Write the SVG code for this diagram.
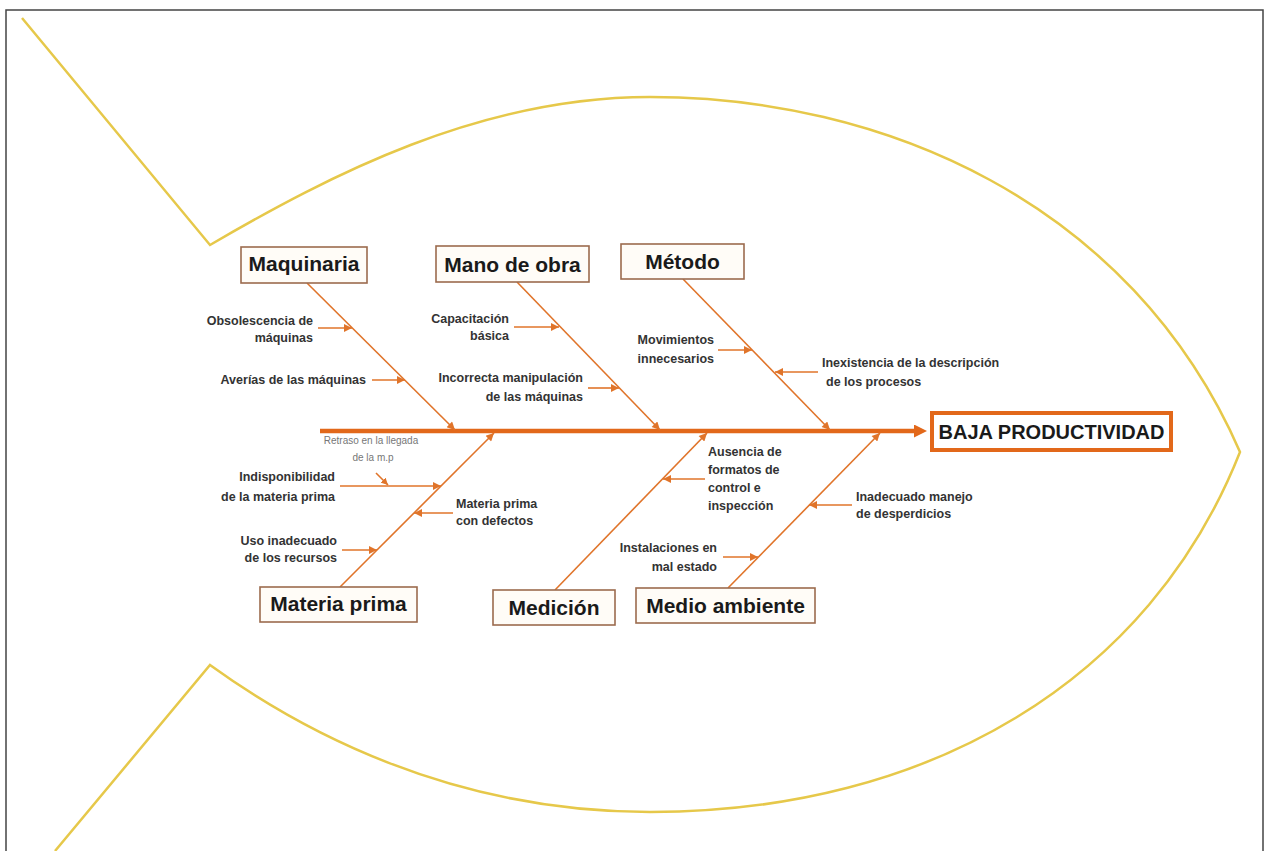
<svg xmlns="http://www.w3.org/2000/svg" width="1270" height="851" viewBox="0 0 1270 851">
<defs>
<style>
.fish{fill:none;stroke:#E6C84A;stroke-width:2.5;stroke-linejoin:miter}
.bone{stroke:#E0742A;stroke-width:1.6;fill:none}
.spine{stroke:#E2681A;stroke-width:4.5;fill:none}
.cat rect{fill:#FFFCF7;stroke:#9C6B4E;stroke-width:1.6}
.cat text{font-family:"Liberation Sans",Arial,sans-serif;font-weight:bold;font-size:21px;fill:#1a1a1a;text-anchor:middle}
.sub{font-family:"Liberation Sans",Arial,sans-serif;font-weight:bold;font-size:12.5px;fill:#333}
.small{font-family:"Liberation Sans",Arial,sans-serif;font-size:10px;fill:#777}
</style>
<marker id="ah" viewBox="0 0 10 10" refX="10" refY="5" markerWidth="9" markerHeight="8" markerUnits="userSpaceOnUse" orient="auto"><path d="M0,0 L10,5 L0,10 z" fill="#E0742A"/></marker>
<marker id="ahs" viewBox="0 0 10 10" refX="10" refY="5" markerWidth="7" markerHeight="7" markerUnits="userSpaceOnUse" orient="auto"><path d="M0,0 L10,5 L0,10 z" fill="#E0742A"/></marker>
<marker id="ahbig" viewBox="0 0 10 10" refX="0" refY="5" markerWidth="15" markerHeight="13" markerUnits="userSpaceOnUse" orient="auto"><path d="M0,0 L10,5 L0,10 z" fill="#E2681A"/></marker>
</defs>
<rect width="1270" height="851" fill="#fff"/>
<path d="M6,860 L6,10 L1263,10 L1263,860" fill="none" stroke="#444" stroke-width="1.5"/>
<g id="fish">
<path class="fish" d="M22,18 L210,245 C330,175 480,97 650,97 C880,97 1130,200 1240,452 C1150,680 930,812 650,812 C450,812 300,730 210,665 L55,851"/>
</g>
<g id="connectors">
<line class="spine" x1="320" y1="431" x2="914" y2="431" marker-end="url(#ahbig)"/>
<line class="bone" x1="307" y1="283" x2="455" y2="430" marker-end="url(#ah)"/>
<line class="bone" x1="517" y1="282" x2="660" y2="430" marker-end="url(#ah)"/>
<line class="bone" x1="683" y1="279" x2="830" y2="430" marker-end="url(#ah)"/>
<line class="bone" x1="340" y1="587" x2="494" y2="433" marker-end="url(#ah)"/>
<line class="bone" x1="555" y1="590" x2="707" y2="433" marker-end="url(#ah)"/>
<line class="bone" x1="728" y1="588" x2="880" y2="433" marker-end="url(#ah)"/>
<line class="bone" x1="318" y1="328" x2="352" y2="328" marker-end="url(#ah)"/>
<line class="bone" x1="372" y1="380" x2="405" y2="380" marker-end="url(#ah)"/>
<line class="bone" x1="514" y1="327" x2="559" y2="327" marker-end="url(#ah)"/>
<line class="bone" x1="588" y1="388" x2="619" y2="388" marker-end="url(#ah)"/>
<line class="bone" x1="718" y1="350" x2="752" y2="350" marker-end="url(#ah)"/>
<line class="bone" x1="818" y1="372" x2="775" y2="372" marker-end="url(#ah)"/>
<line class="bone" x1="340" y1="486" x2="441" y2="486" marker-end="url(#ah)"/>
<line class="bone" x1="376" y1="473" x2="388" y2="485" marker-end="url(#ahs)"/>
<line class="bone" x1="453" y1="513" x2="414" y2="513" marker-end="url(#ah)"/>
<line class="bone" x1="342" y1="550" x2="377" y2="550" marker-end="url(#ah)"/>
<line class="bone" x1="705" y1="479" x2="663" y2="479" marker-end="url(#ah)"/>
<line class="bone" x1="723" y1="557" x2="758" y2="557" marker-end="url(#ah)"/>
<line class="bone" x1="852" y1="505" x2="809" y2="505" marker-end="url(#ah)"/>
</g>
<g id="maquinaria" class="cat"><rect x="241" y="247" width="126" height="36"/><text x="304" y="271">Maquinaria</text></g>
<g id="mano-de-obra" class="cat"><rect x="436" y="246" width="153" height="36"/><text x="512.5" y="272">Mano de obra</text></g>
<g id="metodo" class="cat"><rect x="621" y="244" width="123" height="35"/><text x="682.5" y="269">Método</text></g>
<g id="materia-prima" class="cat"><rect x="260" y="587" width="157" height="35"/><text x="338.5" y="611">Materia prima</text></g>
<g id="medicion" class="cat"><rect x="493" y="590" width="122" height="35"/><text x="554" y="615">Medición</text></g>
<g id="medio-ambiente" class="cat"><rect x="636" y="588" width="179" height="35"/><text x="725.5" y="613">Medio ambiente</text></g>
<g id="efecto"><rect x="932" y="413" width="239" height="37" fill="#fff" stroke="#E2681A" stroke-width="4"/><text x="1051.5" y="439" font-family="Liberation Sans, Arial, sans-serif" font-weight="bold" font-size="20" fill="#1a1a1a" text-anchor="middle">BAJA PRODUCTIVIDAD</text></g>
<g id="causas">
<text class="sub" text-anchor="end"><tspan x="313" y="325">Obsolescencia de</tspan><tspan x="313" y="342">máquinas</tspan></text>
<text class="sub" text-anchor="end" x="366" y="384">Averías de las máquinas</text>
<text class="sub" text-anchor="end"><tspan x="509" y="323">Capacitación</tspan><tspan x="509" y="340">básica</tspan></text>
<text class="sub" text-anchor="end"><tspan x="583" y="382">Incorrecta manipulación</tspan><tspan x="583" y="401">de las máquinas</tspan></text>
<text class="sub" text-anchor="end"><tspan x="714" y="344">Movimientos</tspan><tspan x="714" y="363">innecesarios</tspan></text>
<text class="sub"><tspan x="822" y="367">Inexistencia de la descripción</tspan><tspan x="826" y="386">de los procesos</tspan></text>
<text class="small" text-anchor="middle"><tspan x="371" y="444">Retraso en la llegada</tspan><tspan x="373" y="461">de la m.p</tspan></text>
<text class="sub" text-anchor="end"><tspan x="335" y="481">Indisponibilidad</tspan><tspan x="335" y="501">de la materia prima</tspan></text>
<text class="sub"><tspan x="456" y="508">Materia prima</tspan><tspan x="456" y="525">con defectos</tspan></text>
<text class="sub" text-anchor="end"><tspan x="337" y="545">Uso inadecuado</tspan><tspan x="337" y="562">de los recursos</tspan></text>
<text class="sub"><tspan x="708" y="456">Ausencia de</tspan><tspan x="708" y="474">formatos de</tspan><tspan x="708" y="492">control e</tspan><tspan x="708" y="510">inspección</tspan></text>
<text class="sub" text-anchor="end"><tspan x="717" y="552">Instalaciones en</tspan><tspan x="717" y="571">mal estado</tspan></text>
<text class="sub"><tspan x="856" y="501">Inadecuado manejo</tspan><tspan x="856" y="518">de desperdicios</tspan></text>
</g>
</svg>
